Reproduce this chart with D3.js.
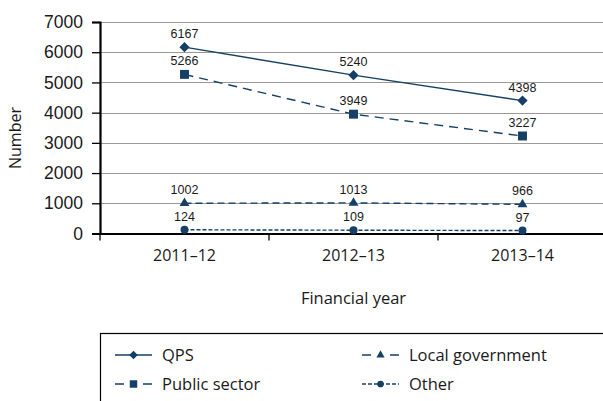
<!DOCTYPE html>
<html>
<head>
<meta charset="utf-8">
<script src="https://cdn.jsdelivr.net/npm/d3@7"></script>
<style>
  html, body { margin: 0; padding: 0; background: #fff; }
  svg { display: block; }
</style>
</head>
<body>
<svg id="chart" width="603" height="401"></svg>
<script>
// Complaints by source, per financial year
const years = ["2011–12", "2012–13", "2013–14"];
const qps = [6167, 5240, 4398];
const publicSector = [5266, 3949, 3227];
const localGovernment = [1002, 1013, 966];
const other = [124, 109, 97];
const yTicks = [0, 1000, 2000, 3000, 4000, 5000, 6000, 7000];

const ink = "#163f66";
const condensed = "'Open Sans', 'Noto Sans', sans-serif";
const plain = "'Liberation Sans', Arial, sans-serif";

// rot: marker rotation in degrees (diamond = square turned 45°)
const series = [
  { name: "QPS", values: qps, dash: null, legendDash: null, symbol: d3.symbolSquare, rot: 45, size: 52 },
  { name: "Public sector", values: publicSector, dash: "9,6", legendDash: "9,19", symbol: d3.symbolSquare, rot: 0, size: 80 },
  { name: "Local government", values: localGovernment, dash: "7,4", legendDash: "9,19", symbol: d3.symbolTriangle, rot: 0, size: 42 },
  { name: "Other", values: other, dash: "4,2", legendDash: "4,2", symbol: d3.symbolCircle, rot: 0, size: 50 }
];

const svg = d3.select("#chart");
const plotLeft = 100, plotRight = 607, plotTop = 22, plotBottom = 233.5;

const x = d3.scaleBand().domain(years).range([plotLeft, plotRight]);
const y = d3.scaleLinear().domain([0, 7000]).range([plotBottom, plotTop]);

// horizontal gridlines
svg.append("g").selectAll("line").data(yTicks.slice(1)).join("line")
  .attr("x1", plotLeft).attr("x2", 603)
  .attr("y1", d => Math.round(y(d)) + 0.5).attr("y2", d => Math.round(y(d)) + 0.5)
  .attr("stroke", "#9a9a9a").attr("stroke-width", 1.2);

// y axis
const yAxis = svg.append("g").attr("transform", `translate(${plotLeft},0)`)
  .call(d3.axisLeft(y).tickValues(yTicks).tickSize(8).tickPadding(9).tickFormat(d3.format("d")));
yAxis.select(".domain").attr("stroke", "#000").attr("stroke-width", 2.2);
yAxis.selectAll(".tick line").attr("stroke", "#000").attr("stroke-width", 1.3);
yAxis.selectAll(".tick text").attr("font-family", plain).attr("font-size", 17.5).attr("fill", "#1a1a1a");

// x axis
const xAxis = svg.append("g").attr("transform", `translate(0,${plotBottom})`)
  .call(d3.axisBottom(x).tickSize(0).tickPadding(16));
xAxis.select(".domain").attr("stroke", "#000").attr("stroke-width", 2.2);
xAxis.selectAll(".tick text").attr("font-family", condensed).attr("font-size", 16).attr("fill", "#1a1a1a");
svg.append("g").selectAll("line").data(years).join("line")
  .attr("x1", d => x(d)).attr("x2", d => x(d))
  .attr("y1", plotBottom).attr("y2", plotBottom + 7)
  .attr("stroke", "#000").attr("stroke-width", 1.3);

// axis titles
svg.append("text").attr("x", x("2012–13") + x.bandwidth() / 2).attr("y", 304)
  .attr("text-anchor", "middle").attr("font-family", condensed).attr("font-size", 16.5)
  .attr("fill", "#1a1a1a").text("Financial year");
svg.append("text").attr("transform", "translate(21,138) rotate(-90)")
  .attr("text-anchor", "middle").attr("font-family", condensed).attr("font-size", 16)
  .attr("fill", "#1a1a1a").text("Number");

const cx = d => x(d) + x.bandwidth() / 2;
const line = d3.line().x(d => cx(d.year)).y(d => y(d.value));

series.forEach(s => {
  const pts = years.map((yr, i) => ({ year: yr, value: s.values[i] }));
  const g = svg.append("g");
  g.append("path").datum(pts).attr("d", line).attr("fill", "none")
    .attr("stroke", ink).attr("stroke-width", 1.4)
    .attr("stroke-dasharray", s.dash);
  g.selectAll("path.m").data(pts).join("path").attr("class", "m")
    .attr("transform", d => `translate(${cx(d.year)},${y(d.value)}) rotate(${s.rot})`)
    .attr("d", d3.symbol().type(s.symbol).size(s.size)).attr("fill", ink);
  g.selectAll("text").data(pts).join("text")
    .attr("x", d => cx(d.year)).attr("y", d => y(d.value) - 9)
    .attr("text-anchor", "middle").attr("font-family", plain).attr("font-size", 12.5)
    .attr("fill", "#1a1a1a").text(d => d.value);
});

// legend
svg.append("rect").attr("x", 100.5).attr("y", 333.5).attr("width", 520).attr("height", 100)
  .attr("fill", "none").attr("stroke", "#000").attr("stroke-width", 1.2);
const legendPos = [[115, 355], [115, 384], [362, 355], [362, 384]];
series.forEach((s, i) => {
  const [lx, ly] = legendPos[i];
  const g = svg.append("g").attr("transform", `translate(${lx},${ly})`);
  g.append("line").attr("x1", 0).attr("x2", 37).attr("y1", 0).attr("y2", 0)
    .attr("stroke", ink).attr("stroke-width", 1.4).attr("stroke-dasharray", s.legendDash);
  g.append("path").attr("transform", `translate(18.5,0) rotate(${s.rot})`)
    .attr("d", d3.symbol().type(s.symbol).size(s.size * 0.7)).attr("fill", ink);
  g.append("text").attr("x", 47).attr("y", 0).attr("dy", "0.35em")
    .attr("font-family", condensed).attr("font-size", 16.5).attr("fill", "#1a1a1a").text(s.name);
});
</script>
</body>
</html>
